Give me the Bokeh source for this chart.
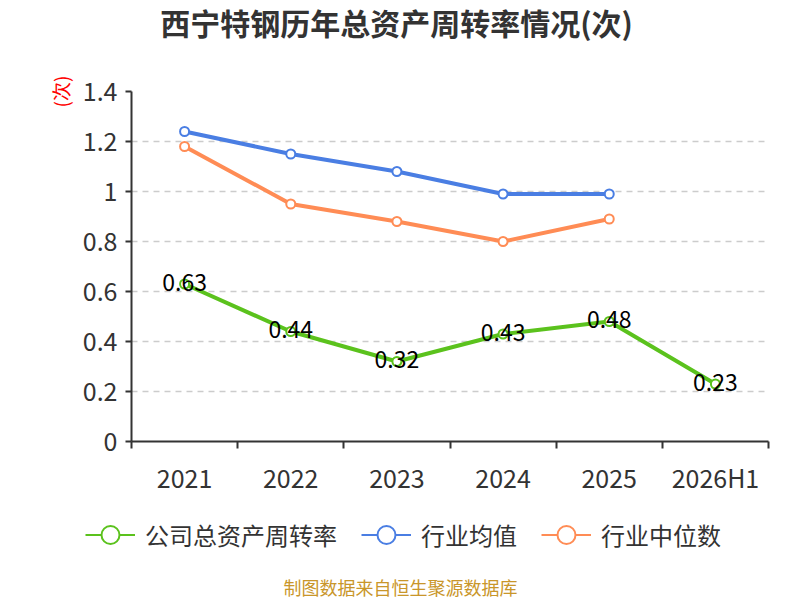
from bokeh.plotting import figure
from bokeh.models import Range1d, FixedTicker, Legend, LegendItem, ColumnDataSource, Label
from bokeh.layouts import column, row
from bokeh.core.properties import value
from bokeh.embed import file_html
from bokeh.resources import INLINE

categories = ["2021", "2022", "2023", "2024", "2025", "2026H1"]
company = [0.63, 0.44, 0.32, 0.43, 0.48, 0.23]
industry_avg = [1.24, 1.15, 1.08, 0.99, 0.99]
industry_median = [1.18, 0.95, 0.88, 0.80, 0.89]
y_ticks = [0, 0.2, 0.4, 0.6, 0.8, 1.0, 1.2, 1.4]
y_tick_labels = ["0", "0.2", "0.4", "0.6", "0.8", "1", "1.2", "1.4"]
series_names = ["公司总资产周转率", "行业均值", "行业中位数"]
TITLE = "西宁特钢历年总资产周转率情况(次)"
FOOTER = "制图数据来自恒生聚源数据库"

FONT = "Noto Sans CJK SC"
GREEN = "#5bc21d"
BLUE = "#4a7ee3"
ORANGE = "#ff8c55"
colors = [GREEN, BLUE, ORANGE]

W = 800
TOP_H = 46
BOT_H = 100
MAIN_H = 600 - TOP_H - BOT_H


def blank(h):
    f = figure(width=W, height=h, output_backend="svg", toolbar_location=None,
               x_range=Range1d(0, W), y_range=Range1d(0, h),
               min_border=0, min_border_left=0, min_border_right=0,
               min_border_top=0, min_border_bottom=0)
    f.axis.visible = False
    f.grid.visible = False
    f.outline_line_color = None
    f.background_fill_color = "white"
    f.border_fill_color = "white"
    return f


# ---- title strip
p0 = blank(TOP_H)
p0.add_layout(Label(x=396, y=TOP_H - 21, x_units="screen", y_units="screen", text=TITLE,
                    text_align="center", text_baseline="middle", text_font=FONT,
                    text_font_size="30px", text_font_style="bold", text_color="#333333"))

# ---- main chart
xpos = [i + 0.5 for i in range(len(categories))]

p = figure(width=W, height=MAIN_H, output_backend="svg", toolbar_location=None,
           x_range=Range1d(0, len(categories)), y_range=Range1d(0, 1.4),
           min_border_left=131, min_border_right=32, min_border_top=45, min_border_bottom=59)
p.outline_line_color = None
p.background_fill_color = "white"
p.border_fill_color = "white"

p.xgrid.visible = False
p.ygrid.ticker = FixedTicker(ticks=y_ticks)
p.ygrid.grid_line_color = "#cccccc"
p.ygrid.grid_line_dash = "6 5"
p.ygrid.grid_line_width = 1.5

yax = p.yaxis[0]
yax.ticker = FixedTicker(ticks=y_ticks, minor_ticks=[])
yax.major_label_overrides = {t: l for t, l in zip(y_ticks, y_tick_labels)}
yax.axis_line_color = "#333333"
yax.axis_line_width = 2
yax.major_tick_line_color = "#333333"
yax.major_tick_line_width = 2
yax.major_tick_out = 6
yax.major_tick_in = 0
yax.minor_tick_line_color = None
yax.major_label_text_font = FONT
yax.major_label_text_font_size = "25px"
yax.major_label_text_color = "#333333"
yax.major_label_standoff = 8
yax.axis_label = "(次)"
yax.axis_label_text_color = "#ff0000"
yax.axis_label_text_font = FONT
yax.axis_label_text_font_size = "19px"
yax.axis_label_text_font_style = "normal"
yax.axis_label_standoff = 6
yax.axis_label_orientation = "parallel"
yax.axis_label_align = "end"

xax = p.xaxis[0]
xax.ticker = FixedTicker(ticks=xpos, minor_ticks=list(range(len(categories) + 1)))
xax.major_label_overrides = {x: c for x, c in zip(xpos, categories)}
xax.axis_line_color = "#333333"
xax.axis_line_width = 2
xax.major_tick_line_color = None
xax.minor_tick_line_color = "#333333"
xax.minor_tick_line_width = 2
xax.minor_tick_out = 7
xax.minor_tick_in = 0
xax.major_label_text_font = FONT
xax.major_label_text_font_size = "25px"
xax.major_label_text_color = "#333333"
xax.major_label_standoff = 10

p.line(xpos[:len(industry_avg)], industry_avg, line_color=BLUE, line_width=4)
p.scatter(xpos[:len(industry_avg)], industry_avg, size=9, fill_color="white", line_color=BLUE, line_width=2)
p.line(xpos[:len(industry_median)], industry_median, line_color=ORANGE, line_width=4)
p.scatter(xpos[:len(industry_median)], industry_median, size=9, fill_color="white", line_color=ORANGE, line_width=2)
p.line(xpos, company, line_color=GREEN, line_width=4)
p.scatter(xpos, company, size=9, fill_color="white", line_color=GREEN, line_width=2)

src = ColumnDataSource(dict(x=xpos, y=company, t=[f"{v:.2f}" for v in company]))
p.text(x="x", y="y", text="t", source=src, text_align="center", text_baseline="middle",
       text_font=value(FONT), text_font_size="23px", text_color="#000000", y_offset=-2)

# ---- legend + footer strip
p2 = blank(BOT_H)
nan = float("nan")
items = []
for name, col in zip(series_names, colors):
    lr = p2.line(x=[nan], y=[nan], line_color=col, line_width=2)
    sr = p2.scatter(x=[nan], y=[nan], size=18, fill_color="white", line_color=col, line_width=2)
    items.append(LegendItem(label=name, renderers=[lr, sr]))

legend = Legend(items=items, orientation="horizontal", location=(85, 43),
                glyph_width=50, glyph_height=45, label_standoff=10, spacing=24,
                padding=0, margin=0, border_line_color=None, background_fill_alpha=0,
                label_text_font=FONT, label_text_font_size="24px", label_text_color="#333333")
p2.add_layout(legend, "center")

p2.add_layout(Label(x=400, y=BOT_H - 86, x_units="screen", y_units="screen", text=FOOTER,
                    text_align="center", text_baseline="middle", text_font=FONT,
                    text_font_size="18px", text_color="#c9962a"))

layout = column(row(p0), p, row(p2), spacing=0)
open("out.html", "w").write(file_html(layout, INLINE))
